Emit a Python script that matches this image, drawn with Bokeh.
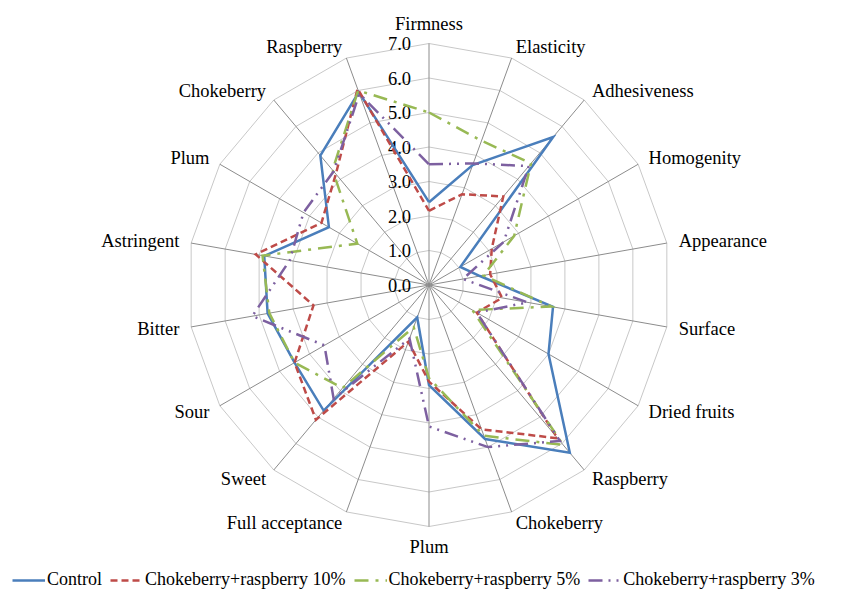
import numpy as np
from bokeh.plotting import figure
from bokeh.models import Range1d, Legend, LegendItem
from bokeh.core.properties import value
from bokeh.embed import file_html
from bokeh.resources import INLINE

categories = ["Firmness", "Elasticity", "Adhesiveness", "Homogenity", "Appearance",
              "Surface", "Dried fruits", "Raspberry", "Chokeberry", "Plum",
              "Full acceptance", "Sweet", "Sour", "Bitter", "Astringent",
              "Plum", "Chokeberry", "Raspberry"]
control = [2.4, 3.7, 5.6, 1.05, 1.5, 3.65, 4.0, 6.35, 4.75, 2.9, 1.0, 4.75, 4.5, 4.75, 4.85, 3.35, 4.9, 5.95]
cr10 = [2.15, 2.8, 3.35, 2.1, 1.8, 2.15, 1.6, 5.8, 4.45, 2.8, 1.75, 5.1, 4.5, 3.4, 5.1, 3.6, 4.2, 6.05]
cr5 = [5.0, 4.45, 4.6, 2.85, 1.6, 3.6, 1.45, 6.05, 4.65, 2.7, 1.3, 3.9, 4.5, 4.7, 4.9, 2.4, 4.35, 6.0]
cr3 = [3.5, 3.75, 4.5, 2.5, 1.0, 2.9, 1.6, 5.9, 5.0, 4.1, 1.65, 4.3, 3.5, 5.2, 4.1, 4.2, 4.3, 5.9]
series_names = ["Control", "Chokeberry+raspberry 10%", "Chokeberry+raspberry 5%", "Chokeberry+raspberry 3%"]
tick_values = [0, 1, 2, 3, 4, 5, 6, 7]
tick_labels = ["0.0", "1.0", "2.0", "3.0", "4.0", "5.0", "6.0", "7.0"]

FONT = "'Liberation Serif', 'Times New Roman', serif"
FS = "18.5px"
PX = 34.5  # pixels per unit
W, H = 832, 591
cx, cy = 428.5, 284.5  # center in figure pixels from top-left

p = figure(width=W, height=H, output_backend="svg", toolbar_location=None,
           x_range=Range1d(-cx / PX, (W - cx) / PX),
           y_range=Range1d(-(H - cy) / PX, cy / PX),
           min_border=0, outline_line_color=None)
p.axis.visible = False
p.grid.visible = False
p.background_fill_color = "white"
p.border_fill_color = "white"

n = len(categories)
theta = np.arange(n) * 2 * np.pi / n
sx, sy = np.sin(theta), np.cos(theta)
rmax = tick_values[-1]

# rings
ring_xs = [list(np.append(r * sx, r * sx[0])) for r in tick_values[1:]]
ring_ys = [list(np.append(r * sy, r * sy[0])) for r in tick_values[1:]]
p.multi_line(ring_xs, ring_ys, line_color="#C8C8C8", line_width=1)
# spokes
p.multi_line([[0, rmax * a] for a in sx], [[0, rmax * b] for b in sy],
             line_color="#8C8C8C", line_width=1)

# tick labels
p.text(x=[0] * len(tick_values), y=tick_values, text=tick_labels, x_offset=-18,
       text_align="right", text_baseline="middle", text_font=value(FONT),
       text_font_size=FS, text_color="#000000")

# category labels
rl = rmax + 12 / PX
rv = rmax + 20 / PX
right_i = [i for i in range(n) if sx[i] > 0.01]
left_i = [i for i in range(n) if sx[i] < -0.01]
mid_i = [i for i in range(n) if abs(sx[i]) <= 0.01]
for idx, align, rr in ((right_i, "left", rl), (left_i, "right", rl), (mid_i, "center", rv)):
    p.text(x=[rr * sx[i] for i in idx], y=[rr * sy[i] for i in idx],
           text=[categories[i] for i in idx], text_align=align, text_baseline="middle",
           text_font=value(FONT), text_font_size=FS, text_color="#000000")

styles = [
    dict(line_color="#4A7EBB", line_width=2.5),
    dict(line_color="#BE4B48", line_width=2.5, line_dash="7 4"),
    dict(line_color="#98B954", line_width=2.5, line_dash="14 7 3 7"),
    dict(line_color="#7D60A0", line_width=2.5, line_dash="14 6 2 6 2 6"),
]
renderers = []
for vals, st in zip([control, cr10, cr5, cr3], styles):
    v = np.array(vals)
    xs = np.append(v * sx, v[0] * sx[0])
    ys = np.append(v * sy, v[0] * sy[0])
    r = p.line(xs, ys, line_join="miter", **st)
    renderers.append(r)

legend = Legend(items=[LegendItem(label=nm, renderers=[r]) for nm, r in zip(series_names, renderers)],
                orientation="horizontal", location=(12, 1), glyph_width=33, glyph_height=16,
                label_standoff=2, spacing=8, padding=0, margin=0,
                border_line_color=None, background_fill_alpha=0,
                label_text_font=FONT, label_text_font_size="18px", label_text_color="#000000")
p.add_layout(legend)

open("out.html", "w").write(file_html(p, INLINE))
